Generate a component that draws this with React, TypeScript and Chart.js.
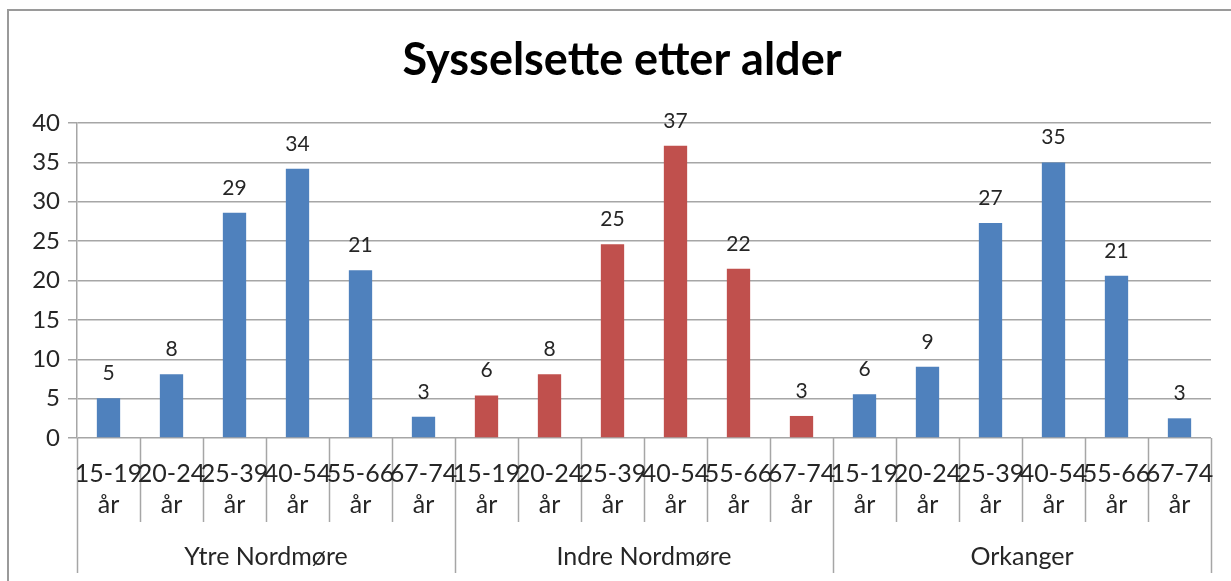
import React, { useEffect, useRef } from 'react';
import { Chart, registerables } from 'chart.js';

Chart.register(...registerables);

const title = 'Sysselsette etter alder';
const regions = ['Ytre Nordmøre', 'Indre Nordmøre', 'Orkanger'];
const ageGroups = ['15-19', '20-24', '25-39', '40-54', '55-66', '67-74'];
const yearWord = 'år';
const ytreValues = [5.05, 8.1, 28.6, 34.2, 21.3, 2.7];
const ytreLabels = ['5', '8', '29', '34', '21', '3'];
const indreValues = [5.4, 8.1, 24.6, 37.1, 21.5, 2.8];
const indreLabels = ['6', '8', '25', '37', '22', '3'];
const orkangerValues = [5.55, 9.05, 27.3, 35.0, 20.6, 2.5];
const orkangerLabels = ['6', '9', '27', '35', '21', '3'];
const regionColors = ['#4f81bd', '#c0504d', '#4f81bd'];
const yMin = 0;
const yMax = 40;
const yStep = 5;

const FONT = 'Lato';

export default function App() {
  const ref = useRef<HTMLCanvasElement | null>(null);

  useEffect(() => {
    if (!ref.current) return;
    const allValues = [...ytreValues, ...indreValues, ...orkangerValues];
    const allLabels = [...ytreLabels, ...indreLabels, ...orkangerLabels];
    const categories: string[][] = [];
    const colors: string[] = [];
    regions.forEach((_, r) => {
      ageGroups.forEach((a) => {
        categories.push([a, yearWord]);
        colors.push(regionColors[r]);
      });
    });

    const overlay = {
      id: 'overlay',
      beforeDraw(chart: any) {
        const ctx = chart.ctx;
        ctx.save();
        ctx.fillStyle = '#ffffff';
        ctx.fillRect(0, 0, chart.width, chart.height);
        ctx.strokeStyle = '#9a9a9a';
        ctx.lineWidth = 2;
        ctx.beginPath();
        ctx.moveTo(8, chart.height + 5);
        ctx.lineTo(8, 10);
        ctx.lineTo(chart.width + 5, 10);
        ctx.stroke();
        ctx.restore();
      },
      afterDraw(chart: any) {
        const ctx = chart.ctx;
        const area = chart.chartArea;
        const xs = chart.scales.x;
        const ys = chart.scales.y;
        const n = categories.length;
        const w = (area.right - area.left) / n;
        ctx.save();
        // title
        ctx.fillStyle = '#000';
        ctx.textAlign = 'center';
        ctx.textBaseline = 'alphabetic';
        let size = 44;
        ctx.font = `bold ${size}px ${FONT}`;
        const tw = ctx.measureText(title).width;
        size = Math.min(46, size * 439 / tw);
        ctx.font = `bold ${size}px ${FONT}`;
        ctx.fillText(title, 622, 75);

        // data labels
        ctx.fillStyle = '#262626';
        ctx.font = `21px ${FONT}`;
        allValues.forEach((v, i) => {
          const x = xs.getPixelForValue(i);
          const y = ys.getPixelForValue(v);
          ctx.fillText(allLabels[i], x, y - 18);
        });

        // category dividers
        ctx.strokeStyle = '#a6a6a6';
        ctx.lineWidth = 1.5;
        for (let i = 0; i <= n; i++) {
          const x = Math.round(area.left + i * w) + 0.5;
          const long = i % ageGroups.length === 0;
          ctx.beginPath();
          ctx.moveTo(x, area.bottom);
          ctx.lineTo(x, area.bottom + (long ? 135 : 84));
          ctx.stroke();
        }

        // category labels
        ctx.fillStyle = '#262626';
        ctx.font = `25px ${FONT}`;
        categories.forEach((c, i) => {
          const x = xs.getPixelForValue(i);
          ctx.fillText(c[0], x, area.bottom + 44);
          ctx.fillText(c[1], x, area.bottom + 75);
        });

        // region labels
        ctx.font = `25px ${FONT}`;
        regions.forEach((r, k) => {
          const x = area.left + (k * ageGroups.length + ageGroups.length / 2) * w;
          ctx.fillText(r, x, area.bottom + 127);
        });
        ctx.restore();
      },
    };

    const chart = new Chart(ref.current, {
      type: 'bar',
      data: {
        labels: categories,
        datasets: [
          {
            data: allValues,
            backgroundColor: colors,
            borderWidth: 0,
            barPercentage: 0.37,
            categoryPercentage: 1,
          },
        ],
      },
      options: {
        animation: false,
        responsive: true,
        maintainAspectRatio: false,
        layout: { padding: { left: 0, top: 123, right: 20, bottom: 143 } },
        plugins: {
          legend: { display: false },
          tooltip: { enabled: false },
          title: { display: false },
        },
        scales: {
          x: { display: false },
          y: {
            min: yMin,
            max: yMax,
            afterFit(scale: any) {
              scale.width = 77;
            },
            ticks: {
              stepSize: yStep,
              color: '#262626',
              font: { family: FONT, size: 24 },
              padding: 8,
            },
            grid: {
              color: '#a6a6a6',
              lineWidth: 1.5,
              tickLength: 9,
            },
            border: { display: true, color: '#a6a6a6', width: 1.5 },
          },
        },
      },
      plugins: [overlay],
    });
    return () => chart.destroy();
  }, []);

  return (
    <div style={{ position: 'absolute', left: 0, top: 0, width: 1231, height: 581 }}>
      <canvas ref={ref} />
    </div>
  );
}
